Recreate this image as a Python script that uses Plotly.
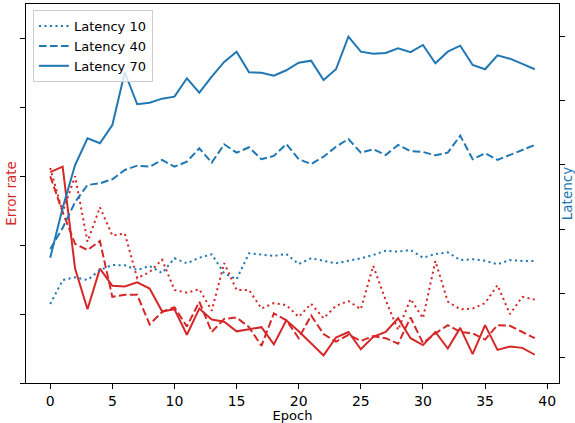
import plotly.graph_objects as go

epochs = list(range(40))

# Error rate (left axis) per latency setting
err_lat10 = [0.312, 0.248, 0.300, 0.205, 0.255, 0.214, 0.217, 0.152, 0.161, 0.179,
             0.135, 0.131, 0.136, 0.105, 0.174, 0.135, 0.135, 0.108, 0.116, 0.113,
             0.096, 0.115, 0.094, 0.112, 0.119, 0.107, 0.170, 0.120, 0.077, 0.122,
             0.094, 0.177, 0.118, 0.107, 0.108, 0.116, 0.142, 0.100, 0.125, 0.121]
err_lat40 = [0.300, 0.248, 0.202, 0.193, 0.206, 0.125, 0.128, 0.128, 0.085, 0.103,
             0.110, 0.082, 0.118, 0.074, 0.093, 0.095, 0.081, 0.054, 0.101, 0.091,
             0.065, 0.098, 0.071, 0.060, 0.070, 0.061, 0.068, 0.065, 0.057, 0.095,
             0.058, 0.072, 0.084, 0.074, 0.072, 0.063, 0.084, 0.083, 0.074, 0.065]
err_lat70 = [0.306, 0.314, 0.166, 0.107, 0.166, 0.141, 0.140, 0.146, 0.137, 0.104,
             0.107, 0.070, 0.108, 0.092, 0.089, 0.075, 0.078, 0.081, 0.056, 0.091,
             0.075, 0.058, 0.040, 0.066, 0.074, 0.049, 0.067, 0.074, 0.094, 0.065,
             0.055, 0.074, 0.050, 0.080, 0.042, 0.084, 0.048, 0.053, 0.051, 0.041]

# Latency (right axis)
lat_10 = [0.835, 1.208, 1.250, 1.208, 1.364, 1.442, 1.437, 1.364, 1.426, 1.317,
          1.546, 1.468, 1.555, 1.608, 1.313, 1.219, 1.624, 1.608, 1.582, 1.613,
          1.457, 1.546, 1.509, 1.468, 1.509, 1.546, 1.597, 1.664, 1.649, 1.675,
          1.555, 1.613, 1.639, 1.519, 1.530, 1.509, 1.453, 1.519, 1.504, 1.504]
lat_40 = [1.690, 2.017, 2.421, 2.686, 2.712, 2.775, 2.919, 2.986, 2.970, 3.075,
          2.970, 3.048, 3.257, 3.033, 3.319, 3.188, 3.272, 3.086, 3.137, 3.323,
          3.086, 3.012, 3.126, 3.281, 3.401, 3.188, 3.241, 3.152, 3.308, 3.212,
          3.199, 3.148, 3.188, 3.453, 3.086, 3.179, 3.075, 3.152, 3.219, 3.308]
lat_70 = [1.555, 2.328, 2.997, 3.412, 3.334, 3.619, 4.439, 3.941, 3.966, 4.028,
          4.059, 4.345, 4.121, 4.370, 4.599, 4.759, 4.439, 4.432, 4.386, 4.470,
          4.588, 4.619, 4.319, 4.485, 4.992, 4.759, 4.728, 4.739, 4.812, 4.751,
          4.863, 4.579, 4.759, 4.852, 4.552, 4.485, 4.703, 4.650, 4.568, 4.485]

names = ["Latency 10", "Latency 40", "Latency 70"]
x_ticks = [0, 5, 10, 15, 20, 25, 30, 35, 40]

RED = "#d62728"
BLUE = "#1f77b4"
DASHES = ["2.1px,3.4px", "7.7px,3.3px", "solid"]

fig = go.Figure()
for series, dash in zip([err_lat10, err_lat40, err_lat70], DASHES):
    fig.add_trace(go.Scatter(x=epochs, y=series, mode="lines", yaxis="y",
                             line=dict(color=RED, width=2, dash=dash),
                             showlegend=False))
for series, dash, name in zip([lat_10, lat_40, lat_70], DASHES, names):
    fig.add_trace(go.Scatter(x=epochs, y=series, mode="lines", yaxis="y2",
                             name=name,
                             line=dict(color=BLUE, width=2, dash=dash)))

axis_common = dict(showline=True, linecolor="black", linewidth=1.1,
                   ticks="outside", ticklen=5, tickwidth=1.1, tickcolor="black",
                   showgrid=False, zeroline=False, automargin=False)

fig.update_layout(
    width=575, height=423,
    margin=dict(l=26, r=16, t=4, b=40),
    paper_bgcolor="white", plot_bgcolor="white",
    font=dict(family="DejaVu Sans", size=14, color="black"),
    xaxis=dict(range=[-1.95, 40.95], tickvals=x_ticks, mirror=True,
               title=dict(text="Epoch", standoff=2, font=dict(size=13)),
               **axis_common),
    yaxis=dict(range=[0, 0.55], tickvals=[0, 0.1, 0.2, 0.3, 0.4, 0.5],
               showticklabels=False,
               title=dict(text="Error rate", font=dict(color=RED, size=13.5), standoff=0),
               **axis_common),
    yaxis2=dict(range=[-0.393, 5.50], tickvals=[0, 1, 2, 3, 4, 5],
                showticklabels=False, overlaying="y", side="right",
                title=dict(text="Latency", font=dict(color=BLUE, size=13.5), standoff=1),
                **axis_common),
    legend=dict(x=0.013, y=0.984, xanchor="left", yanchor="top",
                bgcolor="rgba(255,255,255,0.8)", bordercolor="#cccccc",
                borderwidth=1, font=dict(size=13), tracegroupgap=0),
)

fig.write_html("out.html", config={"displayModeBar": False},
               post_script="document.body.style.margin='0';")
